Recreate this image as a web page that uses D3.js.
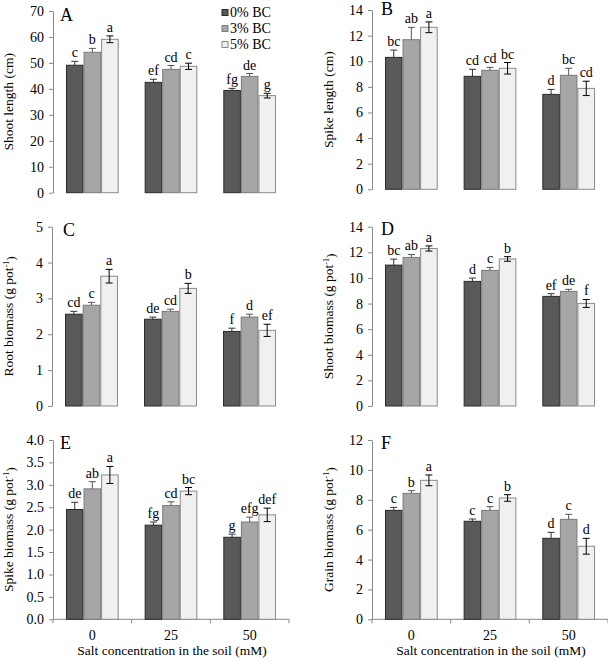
<!DOCTYPE html>
<html>
<head>
<meta charset="utf-8">
<script src="https://cdn.jsdelivr.net/npm/d3@7/dist/d3.min.js"></script>
<style>
  html, body { margin: 0; padding: 0; background: #fff; }
  svg { display: block; }
</style>
</head>
<body>
<svg id="chart" width="608" height="661" font-family="Liberation Serif, Times New Roman, serif"></svg>
<script>
// ---- data ----
const saltLevels = ["0", "25", "50"];
const treatments = ["0% BC", "3% BC", "5% BC"];

// values per salt level (rows) per treatment (columns)
const shootLength    = [[49.1, 54.1, 59.1], [42.5, 47.5, 48.7], [39.4, 44.8, 37.4]];
const shootLengthErr = [[1.5, 1.5, 1.3], [1.2, 1.5, 1.2], [0.8, 1.1, 0.9]];
const shootLengthLet = [["c", "b", "a"], ["ef", "cd", "c"], ["fg", "de", "g"]];

const spikeLength    = [[10.3, 11.68, 12.65], [8.82, 9.29, 9.45], [7.41, 8.9, 7.88]];
const spikeLengthErr = [[0.57, 0.96, 0.42], [0.55, 0.23, 0.45], [0.39, 0.55, 0.56]];
const spikeLengthLet = [["bc", "ab", "a"], ["cd", "cd", "bc"], ["d", "bc", "cd"]];

const rootBiomass    = [[2.56, 2.81, 3.62], [2.42, 2.64, 3.28], [2.08, 2.48, 2.11]];
const rootBiomassErr = [[0.08, 0.08, 0.19], [0.06, 0.06, 0.14], [0.09, 0.08, 0.17]];
const rootBiomassLet = [["cd", "c", "a"], ["de", "cd", "b"], ["f", "d", "ef"]];

const shootBiomass    = [[11.0, 11.6, 12.3], [9.73, 10.59, 11.48], [8.56, 8.95, 8.01]];
const shootBiomassErr = [[0.47, 0.23, 0.2], [0.26, 0.23, 0.18], [0.21, 0.16, 0.31]];
const shootBiomassLet = [["bc", "ab", "a"], ["d", "c", "b"], ["ef", "de", "f"]];

const spikeBiomass    = [[2.45, 2.91, 3.22], [2.10, 2.54, 2.86], [1.83, 2.17, 2.33]];
const spikeBiomassErr = [[0.16, 0.16, 0.19], [0.07, 0.08, 0.08], [0.07, 0.11, 0.15]];
const spikeBiomassLet = [["de", "ab", "a"], ["fg", "cd", "bc"], ["g", "efg", "def"]];

const grainBiomass    = [[7.29, 8.43, 9.30], [6.56, 7.29, 8.12], [5.42, 6.69, 4.89]];
const grainBiomassErr = [[0.2, 0.18, 0.36], [0.15, 0.25, 0.22], [0.4, 0.34, 0.53]];
const grainBiomassLet = [["c", "b", "a"], ["c", "c", "b"], ["d", "c", "d"]];

const ticksA = [0, 10, 20, 30, 40, 50, 60, 70];
const ticksB = [0, 2, 4, 6, 8, 10, 12, 14];
const ticksC = [0, 1, 2, 3, 4, 5];
const ticksD = [0, 2, 4, 6, 8, 10, 12, 14];
const ticksE = [0, 0.5, 1.0, 1.5, 2.0, 2.5, 3.0, 3.5, 4.0];
const ticksF = [0, 2, 4, 6, 8, 10, 12];

const xTitle = "Salt concentration in the soil (mM)";

// ---- styles ----
const FONT = "Liberation Serif, Times New Roman, serif";
const fills   = ["#595959", "#a6a6a6", "#f0f0f0"];
const strokes = ["#2a2a2a", "#7a7a7a", "#8a8a8a"];
const errCols = ["#333333", "#555555", "#000000"];

const panels = [
  { label: "A", values: shootLength, err: shootLengthErr, letters: shootLengthLet, ticks: ticksA, fmt: d3.format("d"),
    title: ["Shoot length (cm)"], x0: 53, x1: 289, yTop: 11, yBot: 192.7, titleX: 8, lab: [60, 20.5], legend: true, xAxis: false },
  { label: "B", values: spikeLength, err: spikeLengthErr, letters: spikeLengthLet, ticks: ticksB, fmt: d3.format("d"),
    title: ["Spike length (cm)"], x0: 372, x1: 608, yTop: 10, yBot: 189.3, titleX: 328, lab: [381, 14.5], legend: false, xAxis: false },
  { label: "C", values: rootBiomass, err: rootBiomassErr, letters: rootBiomassLet, ticks: ticksC, fmt: d3.format("d"),
    title: ["Root biomass (g pot", ")"], x0: 52, x1: 289, yTop: 226.7, yBot: 406, titleX: 8, lab: [63, 235.5], legend: false, xAxis: false },
  { label: "D", values: shootBiomass, err: shootBiomassErr, letters: shootBiomassLet, ticks: ticksD, fmt: d3.format("d"),
    title: ["Shoot biomass (g pot", ")"], x0: 372, x1: 608, yTop: 226.7, yBot: 406, titleX: 328, lab: [381, 235], legend: false, xAxis: false },
  { label: "E", values: spikeBiomass, err: spikeBiomassErr, letters: spikeBiomassLet, ticks: ticksE, fmt: d3.format(".1f"),
    title: ["Spike biomass (g pot", ")"], x0: 53, x1: 289, yTop: 440, yBot: 619.3, titleX: 8, lab: [60, 449], legend: false, xAxis: true },
  { label: "F", values: grainBiomass, err: grainBiomassErr, letters: grainBiomassLet, ticks: ticksF, fmt: d3.format("d"),
    title: ["Grain biomass (g pot", ")"], x0: 372, x1: 608, yTop: 440, yBot: 619.3, titleX: 328, lab: [381, 449], legend: false, xAxis: true }
];

const svg = d3.select("#chart");

function txt(sel) {
  return sel.append("text").attr("font-family", FONT).attr("fill", "#000");
}

panels.forEach(p => {
  const g = svg.append("g").attr("font-family", FONT);
  const yMax = p.ticks[p.ticks.length - 1];
  const y = d3.scaleLinear().domain([0, yMax]).range([p.yBot, p.yTop]);
  const x = d3.scaleBand().domain(saltLevels).range([p.x0, p.x1]).paddingInner(0.33).paddingOuter(0.165);
  const xs = d3.scaleBand().domain(treatments).range([0, x.bandwidth()]);

  // y axis
  const yAxis = d3.axisLeft(y).tickValues(p.ticks).tickFormat(p.fmt).tickSize(4).tickSizeOuter(0).tickPadding(5);
  const ya = g.append("g").attr("transform", `translate(${p.x0},0)`).call(yAxis);
  ya.attr("font-family", FONT).attr("font-size", 14);
  ya.select(".domain").attr("stroke", "#888");
  ya.selectAll(".tick line").attr("stroke", "#888");
  ya.selectAll(".tick text").attr("font-family", FONT).attr("font-size", 14).attr("fill", "#000");

  // y title
  const t = txt(g)
    .attr("transform", `translate(${p.titleX},${(p.yTop + p.yBot) / 2}) rotate(-90)`)
    .attr("text-anchor", "middle").attr("dy", "0.35em").attr("font-size", 13.5);
  t.append("tspan").text(p.title[0]);
  if (p.title.length > 1) {
    t.append("tspan").attr("dy", "-0.45em").attr("font-size", 8).text("-1");
    t.append("tspan").attr("dy", "0.45em").text(p.title[1]);
  }

  // x axis
  if (p.xAxis) {
    const xa = g.append("g").attr("transform", `translate(0,${p.yBot})`);
    xa.append("line").attr("x1", p.x0).attr("x2", p.x1).attr("stroke", "#888");
    const bounds = saltLevels.map(s => x(s) + x.bandwidth() / 2 - x.step() / 2);
    bounds.push(x(saltLevels[2]) + x.bandwidth() / 2 + x.step() / 2);
    xa.selectAll(".bt").data(bounds).join("line")
      .attr("x1", d => d).attr("x2", d => d).attr("y1", 0).attr("y2", 4).attr("stroke", "#888");
    saltLevels.forEach(d => {
      txt(xa).attr("x", x(d) + x.bandwidth() / 2).attr("y", 21)
        .attr("text-anchor", "middle").attr("font-size", 14).text(d);
    });
    txt(g).attr("x", (p.x0 + p.x1) / 2 + 1).attr("y", 655)
      .attr("text-anchor", "middle").attr("font-size", 13.5).text(xTitle);
  }

  // bars
  saltLevels.forEach((s, i) => {
    const gg = g.append("g").attr("transform", `translate(${x(s)},0)`);
    treatments.forEach((tr, j) => {
      const v = p.values[i][j], e = p.err[i][j];
      const bx = xs(tr), bw = xs.bandwidth();
      gg.append("rect")
        .attr("x", bx + 0.5).attr("y", y(v)).attr("width", bw - 1).attr("height", y(0) - y(v))
        .attr("fill", fills[j]).attr("stroke", strokes[j]).attr("stroke-width", 1);
      const cx = bx + bw / 2;
      const top = y(v + e);
      const bot = j === 2 ? y(v - e) : y(v);
      gg.append("line").attr("x1", cx).attr("x2", cx).attr("y1", top).attr("y2", bot)
        .attr("stroke", errCols[j]).attr("stroke-width", 1);
      gg.append("line").attr("x1", cx - 3.5).attr("x2", cx + 3.5).attr("y1", top).attr("y2", top)
        .attr("stroke", errCols[j]).attr("stroke-width", 1);
      if (j === 2) {
        gg.append("line").attr("x1", cx - 3.5).attr("x2", cx + 3.5).attr("y1", bot).attr("y2", bot)
          .attr("stroke", errCols[j]).attr("stroke-width", 1);
      }
      txt(gg).attr("x", cx).attr("y", top - 4)
        .attr("text-anchor", "middle").attr("font-size", 14).text(p.letters[i][j]);
    });
  });

  // panel label
  txt(g).attr("x", p.lab[0]).attr("y", p.lab[1]).attr("font-size", 18).text(p.label);

  // legend
  if (p.legend) {
    const lg = g.append("g").attr("transform", "translate(222,0)");
    treatments.forEach((tr, j) => {
      const cy = 12.5 + j * 16;
      lg.append("rect").attr("x", 0).attr("y", cy - 3).attr("width", 6).attr("height", 6)
        .attr("fill", fills[j]).attr("stroke", strokes[j]).attr("stroke-width", 1);
      txt(lg).attr("x", 8).attr("y", cy).attr("dy", "0.35em").attr("font-size", 14).text(tr);
    });
  }
});
</script>
</body>
</html>
